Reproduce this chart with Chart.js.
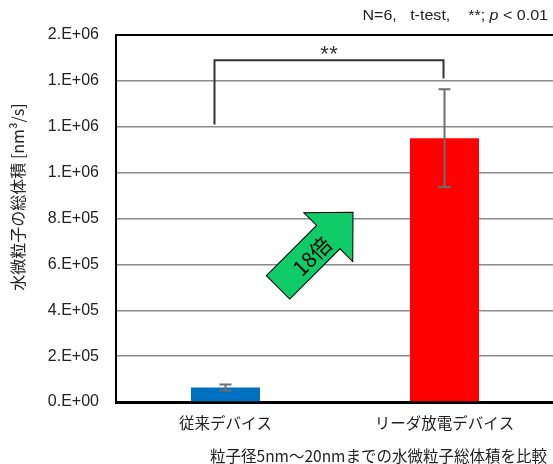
<!DOCTYPE html>
<html>
<head>
<meta charset="utf-8">
<script src="https://cdn.jsdelivr.net/npm/chart.js@4/dist/chart.umd.min.js"></script>
<style>
  html, body { margin: 0; padding: 0; background: #fff; overflow: hidden; }
  #wrap { width: 553px; height: 464px; overflow: hidden; }
  canvas { display: block; }
</style>
</head>
<body>
<div id="wrap"><canvas id="c" width="556" height="464"></canvas></div>
<script>
// Devices compared
const categories = ['従来デバイス', 'リーダ放電デバイス'];
// Total volume of water microparticles [nm^3/s]
const volumes = [63000, 1150000];
// Standard deviation (N=6)
const deviations = [13000, 213000];
const barColors = ['#0070c0', '#ff0000'];
// Axis tick labels (Excel "0.E+00" format)
const yTickValues = [0, 200000, 400000, 600000, 800000, 1000000, 1200000, 1400000, 1600000];
const yTickLabels = ['0.E+00', '2.E+05', '4.E+05', '6.E+05', '8.E+05', '1.E+06', '1.E+06', '1.E+06', '2.E+06'];

const yTitle = '水微粒子の総体積 [nm³/s]';
const footText = '粒子径5nm～20nmまでの水微粒子総体積を比較';
const ratioText = '18倍';

const LATIN = "'Liberation Sans', Arial, 'Noto Sans CJK JP', sans-serif";
const JP = "'Noto Sans CJK JP', 'Liberation Sans', sans-serif";

const overlay = {
  id: 'overlay',
  afterDatasetsDraw(chart) {
    const { ctx, scales: { x, y } } = chart;
    ctx.save();

    // error bars
    ctx.strokeStyle = '#6e6e6e';
    ctx.lineWidth = 2;
    volumes.forEach((v, i) => {
      const px = x.getPixelForValue(i);
      const top = y.getPixelForValue(v + deviations[i]);
      const bot = y.getPixelForValue(v - deviations[i]);
      ctx.beginPath();
      ctx.moveTo(px, top); ctx.lineTo(px, bot);
      ctx.moveTo(px - 6, top); ctx.lineTo(px + 6, top);
      ctx.moveTo(px - 6, bot); ctx.lineTo(px + 6, bot);
      ctx.stroke();
    });

    // significance bracket
    const lx = x.getPixelForValue(0) - 11;
    const rx = x.getPixelForValue(1) - 1;
    const yTop = y.getPixelForValue(1490000);
    ctx.strokeStyle = '#333';
    ctx.lineWidth = 2;
    ctx.beginPath();
    ctx.moveTo(lx, y.getPixelForValue(1210000));
    ctx.lineTo(lx, yTop);
    ctx.lineTo(rx, yTop);
    ctx.lineTo(rx, y.getPixelForValue(1410000));
    ctx.stroke();
    ctx.fillStyle = '#333';
    ctx.font = '22px ' + LATIN;
    ctx.textAlign = 'center';
    ctx.textBaseline = 'alphabetic';
    ctx.fillText('*', (lx + rx) / 2 - 4.5, yTop + 1);
    ctx.fillText('*', (lx + rx) / 2 + 4.5, yTop + 1);

    // ratio arrow
    const ax = x.getPixelForValue(0.24);
    const ay = y.getPixelForValue(500000);
    ctx.translate(ax, ay);
    ctx.rotate(-Math.PI / 4);
    ctx.beginPath();
    ctx.moveTo(0, -16.5);
    ctx.lineTo(71, -16.5);
    ctx.lineTo(71, -34.6);
    ctx.lineTo(106, 0);
    ctx.lineTo(71, 34.6);
    ctx.lineTo(71, 16.5);
    ctx.lineTo(0, 16.5);
    ctx.closePath();
    ctx.fillStyle = '#10cc68';
    ctx.fill();
    ctx.strokeStyle = '#000';
    ctx.lineWidth = 1;
    ctx.stroke();
    ctx.fillStyle = '#000';
    ctx.font = '21px ' + JP;
    ctx.textAlign = 'center';
    ctx.textBaseline = 'middle';
    ctx.fillText(ratioText, 46, 2);
    ctx.restore();
  },
  afterDraw(chart) {
    const { ctx } = chart;
    ctx.save();
    // y axis title
    ctx.translate(18, 197);
    ctx.rotate(-Math.PI / 2);
    ctx.fillStyle = '#222';
    ctx.font = '16px ' + JP;
    ctx.textAlign = 'center';
    ctx.textBaseline = 'middle';
    ctx.fillText(yTitle, 0, 0);
    ctx.restore();

    ctx.save();
    // footnote
    ctx.fillStyle = '#222';
    ctx.font = '15.5px ' + JP;
    ctx.textAlign = 'center';
    ctx.textBaseline = 'middle';
    ctx.fillText(footText, 378.5, 456);
    ctx.restore();

    // statistics note, right-aligned at the top
    ctx.save();
    ctx.fillStyle = '#222';
    ctx.textBaseline = 'middle';
    ctx.textAlign = 'left';
    const parts = [
      ['N=6,   t-test,    **; ', '15px ' + LATIN],
      ['p', 'italic 15px ' + LATIN],
      [' < 0.01', '15px ' + LATIN]
    ];
    let total = 0;
    parts.forEach(p => { ctx.font = p[1]; total += ctx.measureText(p[0]).width; });
    const sx = 1.07;
    ctx.translate(548, 16);
    ctx.scale(sx, 1);
    let cx = -total;
    parts.forEach(p => {
      ctx.font = p[1];
      ctx.fillText(p[0], cx, 0);
      cx += ctx.measureText(p[0]).width;
    });
    ctx.restore();
  }
};

new Chart(document.getElementById('c'), {
  type: 'bar',
  data: {
    labels: categories,
    datasets: [{
      data: volumes,
      backgroundColor: barColors,
      borderWidth: 0,
      categoryPercentage: 1,
      barPercentage: 0.315
    }]
  },
  options: {
    responsive: false,
    devicePixelRatio: 1,
    animation: false,
    layout: { padding: { left: 0, top: 35, right: 2, bottom: 0 } },
    plugins: { legend: { display: false }, tooltip: { enabled: false } },
    scales: {
      x: {
        afterFit(axis) { axis.height = 62; },
        grid: { display: false, drawTicks: false },
        border: { display: true, color: '#000', width: 3 },
        ticks: {
          padding: 12,
          color: '#222',
          font: { family: JP, size: 15.5 }
        }
      },
      y: {
        min: 0,
        max: 1600000,
        afterFit(axis) { axis.width = 116; },
        afterBuildTicks(axis) { axis.ticks = yTickValues.map(v => ({ value: v })); },
        grid: {
          drawTicks: false,
          color: c => (c.tick && c.tick.value === 1600000) ? '#000' : (c.tick && c.tick.value === 0 ? 'rgba(0,0,0,0)' : '#8a8a8a'),
          lineWidth: c => (c.tick && c.tick.value === 1600000) ? 2 : 1.5
        },
        border: { display: true, color: '#000', width: 2 },
        ticks: {
          padding: 17,
          color: '#222',
          font: { family: LATIN, size: 16 },
          callback: (v) => yTickLabels[yTickValues.indexOf(v)]
        }
      }
    }
  },
  plugins: [overlay]
});
</script>
</body>
</html>
